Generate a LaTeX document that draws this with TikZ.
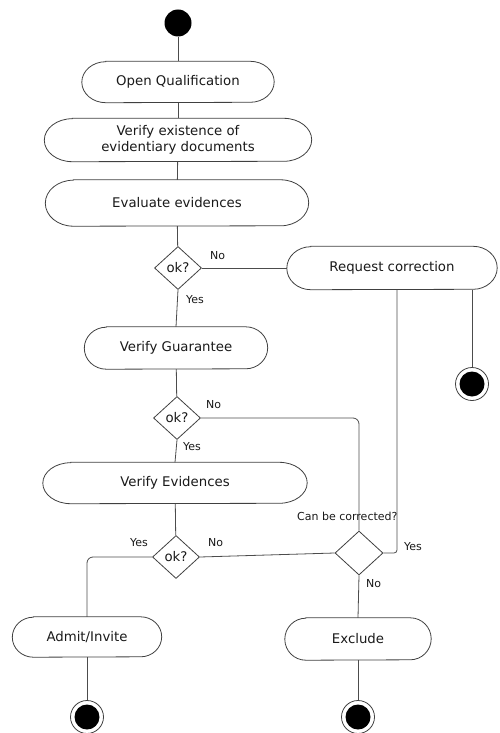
\documentclass[tikz,border=0pt]{standalone}
\usepackage{fontspec}
\setmainfont{DejaVu Sans}
\usetikzlibrary{shapes.geometric,calc}

\tikzset{
  mainfont/.style={font=\fontsize{13.3}{15.5}\selectfont},
  act/.style={rectangle, inner sep=0pt, align=center, mainfont, text=black!90},
  outline/.style={draw=black!75, line width=0.8pt},
  dec/.style={draw=black!75, line width=0.8pt, diamond, inner sep=0pt,
    minimum width=47pt, minimum height=43pt, mainfont, text=black!90},
  initial/.style={circle, fill=black, inner sep=0pt, minimum size=27pt},
  final/.style={circle, draw=black!75, line width=0.8pt, inner sep=0pt, minimum size=33pt,
    path picture={\fill[black] (path picture bounding box.center) circle (12.5pt);}},
  lbl/.style={font=\fontsize{11}{13}\selectfont, inner sep=0pt, anchor=west, text=black!90},
  conn/.style={draw=black!70, line width=0.8pt},
}

% activity outline with half-elliptic ends: #1 node, #2 horizontal radius, #3 vertical radius
\newcommand\actoutline[3]{%
  \draw[outline] ($(#1.north west)+(#2pt,0)$) -- ($(#1.north east)+(-#2pt,0)$)
    arc[start angle=90, end angle=-90, x radius=#2pt, y radius=#3pt]
    -- ($(#1.south west)+(#2pt,0)$)
    arc[start angle=270, end angle=90, x radius=#2pt, y radius=#3pt] -- cycle;}

\begin{document}
\begin{tikzpicture}[x=1pt, y=-1pt]
  \useasboundingbox (0,0) rectangle (499,733);

  % start
  \node[initial] (start) at (178,23) {};

  % activities
  \node[act, minimum width=192pt, minimum height=41pt] (oq)  at (178,82)  {Open Qualification};
  \node[act, minimum width=267pt, minimum height=43pt] (ve)  at (178,140) {Verify existence of\\evidentiary documents};
  \node[act, minimum width=263pt, minimum height=46pt] (ee)  at (177,203) {Evaluate evidences};
  \node[act, minimum width=210pt, minimum height=43pt] (rc)  at (392,268) {Request correction};
  \node[act, minimum width=183pt, minimum height=42pt] (vg)  at (176,348) {Verify Guarantee};
  \node[act, minimum width=264pt, minimum height=41pt] (vev) at (175,483) {Verify Evidences};
  \node[act, minimum width=149pt, minimum height=40pt] (ad)  at (87,637)  {Admit/Invite};
  \node[act, minimum width=146pt, minimum height=42pt] (ex)  at (358,639) {Exclude};

  \actoutline{oq}{24}{20.5}
  \actoutline{ve}{28}{21.5}
  \actoutline{ee}{28}{23}
  \actoutline{rc}{24}{21.5}
  \actoutline{vg}{22}{21}
  \actoutline{vev}{28}{20.5}
  \actoutline{ad}{21}{20}
  \actoutline{ex}{21}{21}

  % decisions
  \node[dec] (d1)  at (178,268) {ok?};
  \node[dec] (d2)  at (177,418) {ok?};
  \node[dec] (d3)  at (176,557) {ok?};
  \node[dec, minimum width=48pt, minimum height=44pt] (cbc) at (359,553) {};

  % final states
  \node[final] (endrc) at (472,384) {};
  \node[final] (endad) at (87,717)  {};
  \node[final] (endex) at (358,717) {};

  % helper for the vertical return line
  \coordinate (retx) at (397,0);

  % connectors
  \draw[conn] (start) -- (oq);
  \draw[conn] (oq) -- (ve);
  \draw[conn] (ve) -- (ee);
  \draw[conn] (ee) -- (d1);
  \draw[conn] (d1.east) -- (rc.west);
  \draw[conn] (d1.south) -- (vg.north);
  \draw[conn] (rc.south -| endrc) -- (endrc);
  \draw[conn, rounded corners=3pt] (cbc.east) -| (rc.south -| retx);
  \draw[conn] (vg) -- (d2);
  \draw[conn, rounded corners=6pt] (d2.east) -| (cbc.north);
  \draw[conn] (d2.south) -- (vev.north);
  \draw[conn] (vev) -- (d3);
  \draw[conn, rounded corners=6pt] (d3.west) -| (ad.north);
  \draw[conn] (d3.east) -- (cbc.west);
  \draw[conn] (cbc.south) -- (ex.north);
  \draw[conn] (ad) -- (endad);
  \draw[conn] (ex) -- (endex);

  % guard labels
  \node[lbl] (n1) at (210,256) {No};
  \node[lbl] (y1) at (186,300) {Yes};
  \node[lbl] (n2) at (206,405) {No};
  \node[lbl] (y2) at (183,447) {Yes};
  \node[lbl] (y3) at (130,543) {Yes};
  \node[lbl] (n3) at (208,543) {No};
  \node[lbl] (cq) at (297,516) {Can be corrected?};
  \node[lbl] (y4) at (404,547) {Yes};
  \node[lbl] (n4) at (366,584) {No};
\end{tikzpicture}
\end{document}
